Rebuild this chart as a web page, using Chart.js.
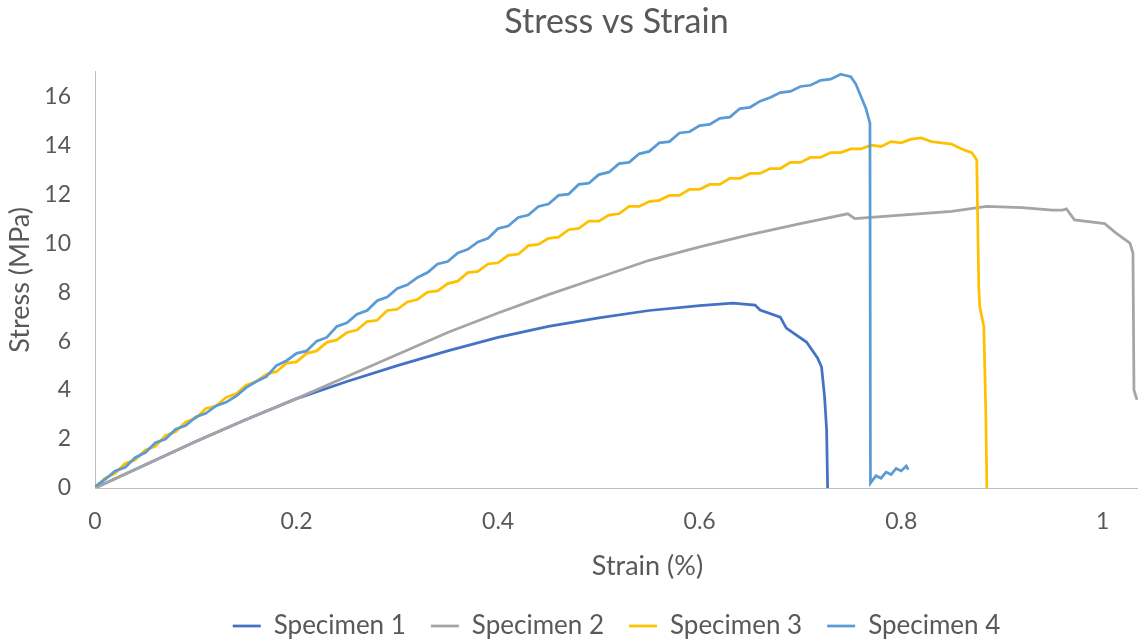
<!DOCTYPE html>
<html>
<head>
<meta charset="utf-8">
<script src="https://cdn.jsdelivr.net/npm/chart.js@4.4.1/dist/chart.umd.min.js"></script>
<style>
html,body{margin:0;padding:0;background:#fff;}
#wrap{width:1138px;height:641px;position:relative;}
</style>
</head>
<body>
<div id="wrap"><canvas id="c" width="1138" height="641"></canvas></div>
<script>
const chartTitle = "Stress vs Strain";
const xTitle = "Strain (%)";
const yTitle = "Stress (MPa)";
const seriesNames = ["Specimen 1", "Specimen 2", "Specimen 3", "Specimen 4"];
const xTicks = [0, 0.2, 0.4, 0.6, 0.8, 1];
const yTicks = [0, 2, 4, 6, 8, 10, 12, 14, 16];

const strain1 = [0, 0.05, 0.1, 0.15, 0.2, 0.25, 0.3, 0.35, 0.4, 0.45, 0.5, 0.55, 0.6, 0.633, 0.655, 0.66, 0.68, 0.686, 0.706, 0.717, 0.721, 0.724, 0.726, 0.727];
const stress1 = [0, 0.95, 1.9, 2.8, 3.65, 4.35, 5.0, 5.6, 6.15, 6.6, 6.95, 7.25, 7.45, 7.55, 7.47, 7.27, 6.98, 6.53, 5.96, 5.31, 4.94, 3.71, 2.37, 0];

const strain2 = [0, 0.05, 0.1, 0.15, 0.2, 0.25, 0.3, 0.35, 0.4, 0.45, 0.5, 0.55, 0.6, 0.65, 0.7, 0.747, 0.754, 0.77, 0.8, 0.85, 0.885, 0.92, 0.95, 0.96, 0.964, 0.972, 1.002, 1.012, 1.027, 1.030, 1.031, 1.034];
const stress2 = [0, 0.95, 1.9, 2.8, 3.65, 4.55, 5.45, 6.35, 7.15, 7.9, 8.6, 9.3, 9.85, 10.35, 10.8, 11.2, 11.0, 11.05, 11.15, 11.3, 11.5, 11.45, 11.35, 11.35, 11.4, 10.95, 10.8, 10.45, 10.0, 9.6, 4.0, 3.6];

const strain3 = [0, 0.01, 0.02, 0.03, 0.04, 0.05, 0.06, 0.07, 0.08, 0.09, 0.1, 0.11, 0.12, 0.13, 0.14, 0.15, 0.16, 0.17, 0.18, 0.19, 0.2, 0.21, 0.22, 0.23, 0.24, 0.25, 0.26, 0.27, 0.28, 0.29, 0.3, 0.31, 0.32, 0.33, 0.34, 0.35, 0.36, 0.37, 0.38, 0.39, 0.4, 0.41, 0.42, 0.43, 0.44, 0.45, 0.46, 0.47, 0.48, 0.49, 0.5, 0.51, 0.52, 0.53, 0.54, 0.55, 0.56, 0.57, 0.58, 0.59, 0.6, 0.61, 0.62, 0.63, 0.64, 0.65, 0.66, 0.67, 0.68, 0.69, 0.7, 0.71, 0.72, 0.73, 0.74, 0.75, 0.76, 0.77, 0.78, 0.79, 0.8, 0.81, 0.82, 0.83, 0.84, 0.85, 0.86, 0.87, 0.875, 0.877, 0.878, 0.882, 0.884, 0.885];
const stress3 = [0, 0.4, 0.6, 1.0, 1.15, 1.55, 1.7, 2.15, 2.3, 2.7, 2.85, 3.25, 3.35, 3.7, 3.85, 4.2, 4.35, 4.65, 4.75, 5.1, 5.15, 5.5, 5.6, 5.95, 6.05, 6.35, 6.45, 6.8, 6.85, 7.25, 7.3, 7.6, 7.7, 8.0, 8.05, 8.35, 8.45, 8.8, 8.85, 9.15, 9.2, 9.5, 9.55, 9.9, 9.95, 10.2, 10.25, 10.55, 10.6, 10.9, 10.9, 11.15, 11.2, 11.5, 11.5, 11.7, 11.75, 11.95, 11.95, 12.2, 12.2, 12.4, 12.4, 12.65, 12.65, 12.85, 12.85, 13.05, 13.05, 13.3, 13.3, 13.5, 13.5, 13.7, 13.7, 13.85, 13.85, 14.0, 13.95, 14.15, 14.1, 14.25, 14.3, 14.15, 14.1, 14.05, 13.85, 13.7, 13.4, 8.2, 7.4, 6.6, 3.0, 0];

const strain4 = [0, 0.01, 0.02, 0.03, 0.04, 0.05, 0.06, 0.07, 0.08, 0.09, 0.1, 0.11, 0.12, 0.13, 0.14, 0.15, 0.16, 0.17, 0.18, 0.19, 0.2, 0.21, 0.22, 0.23, 0.24, 0.25, 0.26, 0.27, 0.28, 0.29, 0.3, 0.31, 0.32, 0.33, 0.34, 0.35, 0.36, 0.37, 0.38, 0.39, 0.4, 0.41, 0.42, 0.43, 0.44, 0.45, 0.46, 0.47, 0.48, 0.49, 0.5, 0.51, 0.52, 0.53, 0.54, 0.55, 0.56, 0.57, 0.58, 0.59, 0.6, 0.61, 0.62, 0.63, 0.64, 0.65, 0.66, 0.67, 0.68, 0.69, 0.7, 0.71, 0.72, 0.73, 0.74, 0.745, 0.75, 0.755, 0.765, 0.769, 0.7695, 0.775, 0.78, 0.785, 0.79, 0.795, 0.8, 0.805, 0.807];
const stress4 = [0.05, 0.35, 0.7, 0.85, 1.25, 1.45, 1.85, 2.0, 2.4, 2.55, 2.9, 3.05, 3.35, 3.5, 3.75, 4.1, 4.35, 4.55, 5.0, 5.2, 5.5, 5.6, 6.0, 6.15, 6.6, 6.75, 7.1, 7.25, 7.65, 7.8, 8.15, 8.3, 8.6, 8.8, 9.15, 9.25, 9.6, 9.75, 10.05, 10.2, 10.6, 10.7, 11.05, 11.15, 11.5, 11.6, 11.95, 12.0, 12.4, 12.45, 12.8, 12.9, 13.25, 13.3, 13.65, 13.75, 14.1, 14.15, 14.5, 14.55, 14.8, 14.85, 15.1, 15.15, 15.5, 15.55, 15.8, 15.95, 16.15, 16.2, 16.4, 16.45, 16.65, 16.7, 16.9, 16.85, 16.8, 16.5, 15.5, 14.9, 0.2, 0.5, 0.4, 0.65, 0.55, 0.8, 0.7, 0.9, 0.75];

const colors = ["#4472C4", "#A5A5A5", "#FFC000", "#5B9BD5"];
const strains = [strain1, strain2, strain3, strain4];
const stresses = [stress1, stress2, stress3, stress4];

const textColor = "#595959";
const fontFamily = "Lato, 'Open Sans', sans-serif";

const datasets = seriesNames.map((name, i) => ({
  label: name,
  data: strains[i].map((x, j) => ({x: x, y: stresses[i][j]})),
  borderColor: colors[i],
  backgroundColor: colors[i],
  borderWidth: 2.75,
  pointRadius: 0,
  pointHoverRadius: 0,
  tension: 0,
  fill: false,
  order: 4 - i
}));

// draws the x-axis title slightly right of the plot centre, as in the original
const xTitlePlugin = {
  id: "xTitlePlugin",
  afterDraw(chart) {
    const ctx = chart.ctx;
    const area = chart.chartArea;
    ctx.save();
    ctx.font = "27px " + fontFamily;
    ctx.fillStyle = textColor;
    ctx.textAlign = "center";
    ctx.textBaseline = "middle";
    ctx.fillText(xTitle, (area.left + area.right) / 2 + 31, area.bottom + 78);
    ctx.restore();
  }
};

new Chart(document.getElementById("c"), {
  type: "line",
  data: { datasets: datasets },
  plugins: [xTitlePlugin],
  options: {
    responsive: false,
    animation: false,
    layout: { padding: { left: 0, right: 0, top: 0, bottom: -8 } },
    plugins: {
      title: {
        display: true,
        fullSize: false,
        text: chartTitle,
        color: textColor,
        font: { family: fontFamily, size: 34, weight: "normal" },
        padding: { top: 2, bottom: 29 }
      },
      legend: {
        position: "bottom",
        fullSize: false,
        labels: {
          color: textColor,
          font: { family: fontFamily, size: 26 },
          usePointStyle: true,
          pointStyle: "line",
          pointStyleWidth: 28,
          padding: 25,
          sort: (a, b) => a.datasetIndex - b.datasetIndex
        }
      },
      tooltip: { enabled: false }
    },
    scales: {
      x: {
        type: "linear",
        min: 0,
        max: 1.035,
        grid: { display: false, drawTicks: false, tickLength: 0 },
        border: { display: true, color: "#BFBFBF", width: 1 },
        ticks: {
          color: textColor,
          font: { family: fontFamily, size: 23 },
          padding: 20,
          maxRotation: 0,
          callback: (v) => String(Math.round(v * 10) / 10)
        },
        afterBuildTicks: (scale) => { scale.ticks = xTicks.map(v => ({ value: v })); },
        afterFit: (scale) => { scale.height = 100; },
        title: { display: false, text: xTitle }
      },
      y: {
        type: "linear",
        min: 0,
        max: 17,
        grid: { display: false, drawTicks: false, tickLength: 0 },
        border: { display: true, color: "#BFBFBF", width: 1 },
        ticks: {
          color: textColor,
          font: { family: fontFamily, size: 23 },
          padding: 24
        },
        afterBuildTicks: (scale) => { scale.ticks = yTicks.map(v => ({ value: v })); },
        afterFit: (scale) => { scale.width = 95; },
        title: {
          display: true,
          text: yTitle,
          color: textColor,
          font: { family: fontFamily, size: 27 },
          padding: { top: 4, bottom: 0 }
        }
      }
    }
  }
});
</script>
</body>
</html>
